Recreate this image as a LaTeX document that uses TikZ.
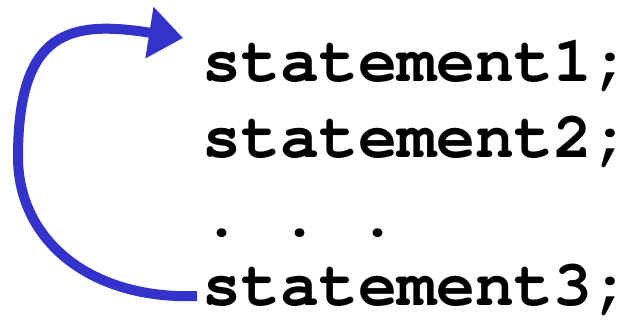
\documentclass[tikz,border=0pt]{standalone}
\usetikzlibrary{arrows.meta}
% Courier bold if it is there, else Latin Modern Mono bold
\IfFileExists{t1pcr.fd}{%
 \usepackage[T1]{fontenc}
 \newcommand\stmtface{\fontsize{65}{65}\fontfamily{pcr}\fontseries{b}\selectfont}}{%
 \newcommand\stmtface{\fontsize{75}{75}\ttfamily\bfseries}}
\definecolor{loopblue}{RGB}{51,51,204}
\tikzset{
 stmt/.style={anchor=base west, inner sep=0pt, font=\stmtface},
 loop/.style={draw=loopblue, line width=10pt, -{Triangle[length=34pt, width=50pt]}}
}

\begin{document}
\begin{tikzpicture}[x=1pt, y=1pt]
 \useasboundingbox (0,0) rectangle (621,320);
 \node [stmt] (s1) at (202,238) {statement1;};
 \node [stmt] (s2) at (202,162) {statement2;};
 \node [stmt] (dots) at (202,83) {.\ .\ .};
 \node [stmt] (s3) at (202,14) {statement3;};
 \coordinate (from) at (197,24);
 \coordinate (tip) at (183,282);
 \draw [loop] (from) .. controls (90,20) and (18,80) .. (18,163)
   .. controls (18,290) and (70,300) .. (tip);
\end{tikzpicture}
\end{document}
